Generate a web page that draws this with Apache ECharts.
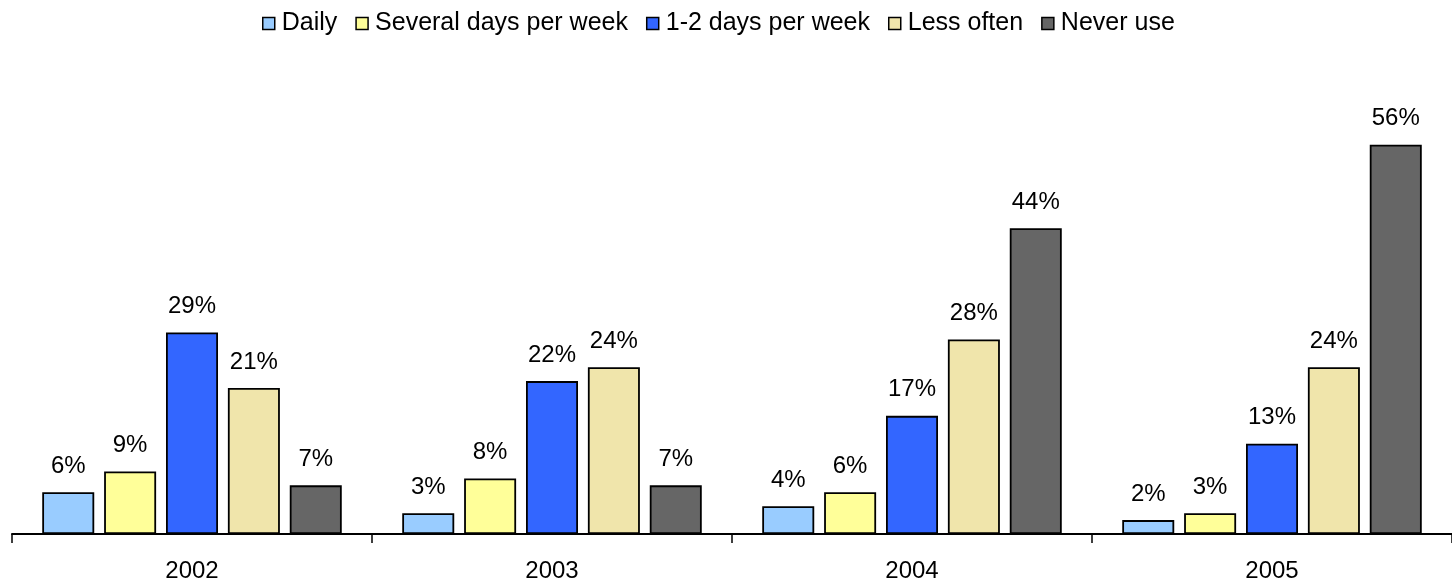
<!DOCTYPE html>
<html>
<head>
<meta charset="utf-8">
<script src="https://cdn.jsdelivr.net/npm/echarts@6/dist/echarts.min.js"></script>
<style>
  html, body { margin: 0; padding: 0; background: #fff; }
  #chart { width: 1452px; height: 583px; }
</style>
</head>
<body>
<div id="chart"></div>
<script>
// 数据
var years = ["2002", "2003", "2004", "2005"];
var seriesNames = ["Daily", "Several days per week", "1-2 days per week", "Less often", "Never use"];
var daily = [6, 3, 4, 2];
var severalDays = [9, 8, 6, 3];
var oneTwoDays = [29, 22, 17, 13];
var lessOften = [21, 24, 28, 24];
var neverUse = [7, 7, 44, 56];

var colors = ["#99CCFF", "#FFFF99", "#3366FF", "#F0E5AB", "#666666"];
var allData = [daily, severalDays, oneTwoDays, lessOften, neverUse];

var chart = echarts.init(document.getElementById("chart"));

var series = seriesNames.map(function (name, i) {
  return {
    name: name,
    type: "bar",
    barWidth: 52,
    barGap: "19%",
    data: allData[i],
    itemStyle: {
      color: colors[i],
      borderColor: "#000",
      borderWidth: 1.8
    },
    label: {
      show: true,
      position: "top",
      distance: 14,
      formatter: "{c}%",
      color: "#000",
      fontSize: 24,
      fontFamily: "Liberation Sans, Arial, sans-serif"
    }
  };
});

chart.setOption({
  animation: false,
  color: colors,
  legend: {
    data: seriesNames,
    top: 6,
    left: 257,
    itemWidth: 12,
    itemHeight: 12,
    itemGap: 18,
    icon: "rect",
    itemStyle: { borderColor: "#000", borderWidth: 1.5 },
    textStyle: {
      color: "#000",
      fontSize: 25,
      fontFamily: "Liberation Sans, Arial, sans-serif",
      padding: [0, 0, 0, 2]
    }
  },
  grid: {
    left: 12,
    right: -1,
    top: 117,
    bottom: 48,
    containLabel: false
  },
  xAxis: {
    type: "category",
    data: years,
    axisLine: { lineStyle: { color: "#000", width: 2 } },
    axisTick: { show: true, length: 9, lineStyle: { color: "#000", width: 1.5 } },
    axisLabel: {
      color: "#000",
      fontSize: 24,
      margin: 25,
      fontFamily: "Liberation Sans, Arial, sans-serif"
    }
  },
  yAxis: {
    type: "value",
    min: 0,
    max: 60,
    show: false,
    splitLine: { show: false }
  },
  series: series
});
</script>
</body>
</html>
